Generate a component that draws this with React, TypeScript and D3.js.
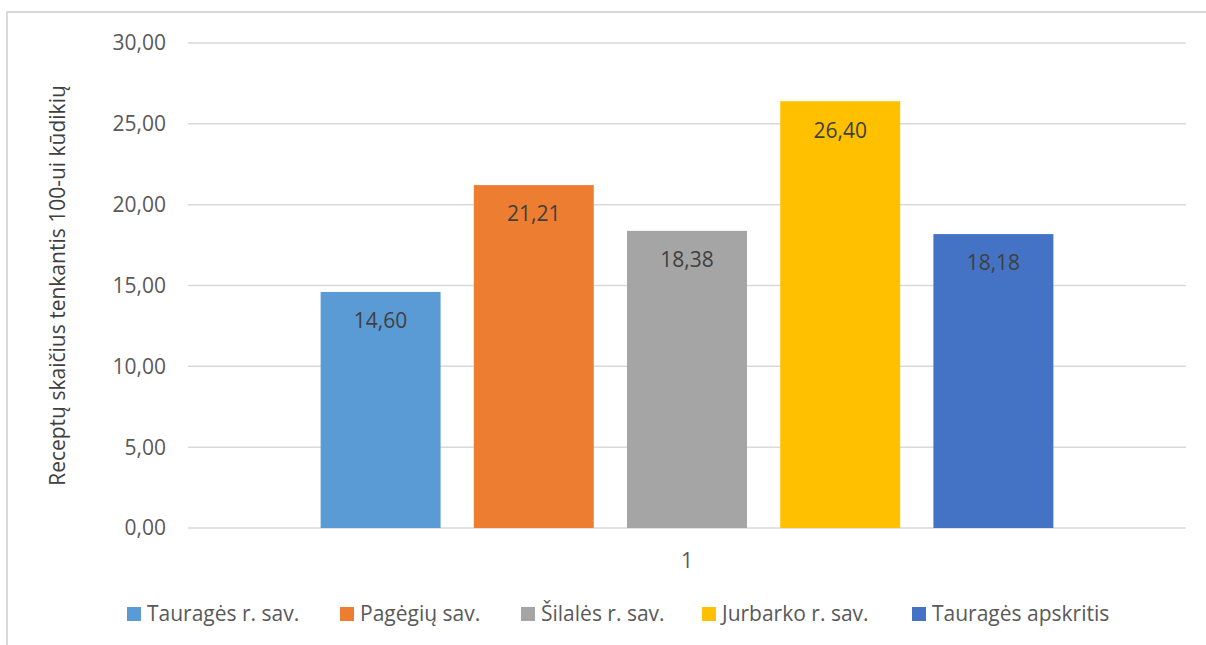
import React from "react";
import * as d3 from "d3";

const categories = ["Tauragės r. sav.", "Pagėgių sav.", "Šilalės r. sav.", "Jurbarko r. sav.", "Tauragės apskritis"];
const values = [14.6, 21.21, 18.38, 26.4, 18.18];
const colors = ["#5b9bd5", "#ed7d31", "#a5a5a5", "#ffc000", "#4472c4"];
const yTicks = [0, 5, 10, 15, 20, 25, 30];
const xCategory = ["1"];
const yTitle = "Receptų skaičius tenkantis 100-ui kūdikių";

const W = 1206;
const H = 645;
const FONT = "'Open Sans', 'DejaVu Sans', sans-serif";

export default function App() {
  const left = 188, right = 1186, top = 43, bottom = 528;
  const y = d3.scaleLinear().domain([0, 30]).range([bottom, top]);
  const xOuter = d3.scaleBand().domain(xCategory).range([left, right]).paddingInner(0).paddingOuter(0.181);
  const xInner = d3.scaleBand().domain(categories).range([0, xOuter.bandwidth()]).paddingInner(0.217).paddingOuter(0);
  const fmt = (v: number) => v.toFixed(2).replace(".", ",");

  const legendX = [127, 340, 521, 702, 912];

  return (
    <svg width={W} height={H} style={{ position: "absolute", left: 0, top: 0, background: "#fff" }} fontFamily={FONT}>
      <rect x={7} y={12} width={W + 20} height={H + 20} fill="#fff" stroke="#d9d9d9" strokeWidth={2} />
      {yTicks.map((t) => (
        <g key={t}>
          <line x1={left} x2={right} y1={y(t)} y2={y(t)} stroke="#d9d9d9" strokeWidth={1.5} />
          <text x={166} y={y(t)} dy="0.35em" textAnchor="end" fontSize={21} fill="#595959">{fmt(t)}</text>
        </g>
      ))}
      {xCategory.map((c) => (
        <g key={c}>
          {categories.map((k, i) => {
            const bx = (xOuter(c) as number) + (xInner(k) as number);
            const bw = xInner.bandwidth();
            return (
              <g key={k}>
                <rect x={bx} y={y(values[i])} width={bw} height={bottom - y(values[i])} fill={colors[i]} />
                <text x={bx + bw / 2} y={y(values[i]) + 29} dy="0.35em" textAnchor="middle" fontSize={21} fill="#404040">{fmt(values[i])}</text>
              </g>
            );
          })}
          <text x={(xOuter(c) as number) + xOuter.bandwidth() / 2} y={561} dy="0.35em" textAnchor="middle" fontSize={21} fill="#595959">{c}</text>
        </g>
      ))}
      <text transform={`translate(58,${(top + bottom) / 2}) rotate(-90)`} textAnchor="middle" dy="0.35em" fontSize={21} fill="#404040">{yTitle}</text>
      {categories.map((k, i) => (
        <g key={k}>
          <rect x={legendX[i]} y={607} width={14} height={14} fill={colors[i]} />
          <text x={legendX[i] + 20} y={614} dy="0.35em" fontSize={21} fill="#595959">{k}</text>
        </g>
      ))}
    </svg>
  );
}
